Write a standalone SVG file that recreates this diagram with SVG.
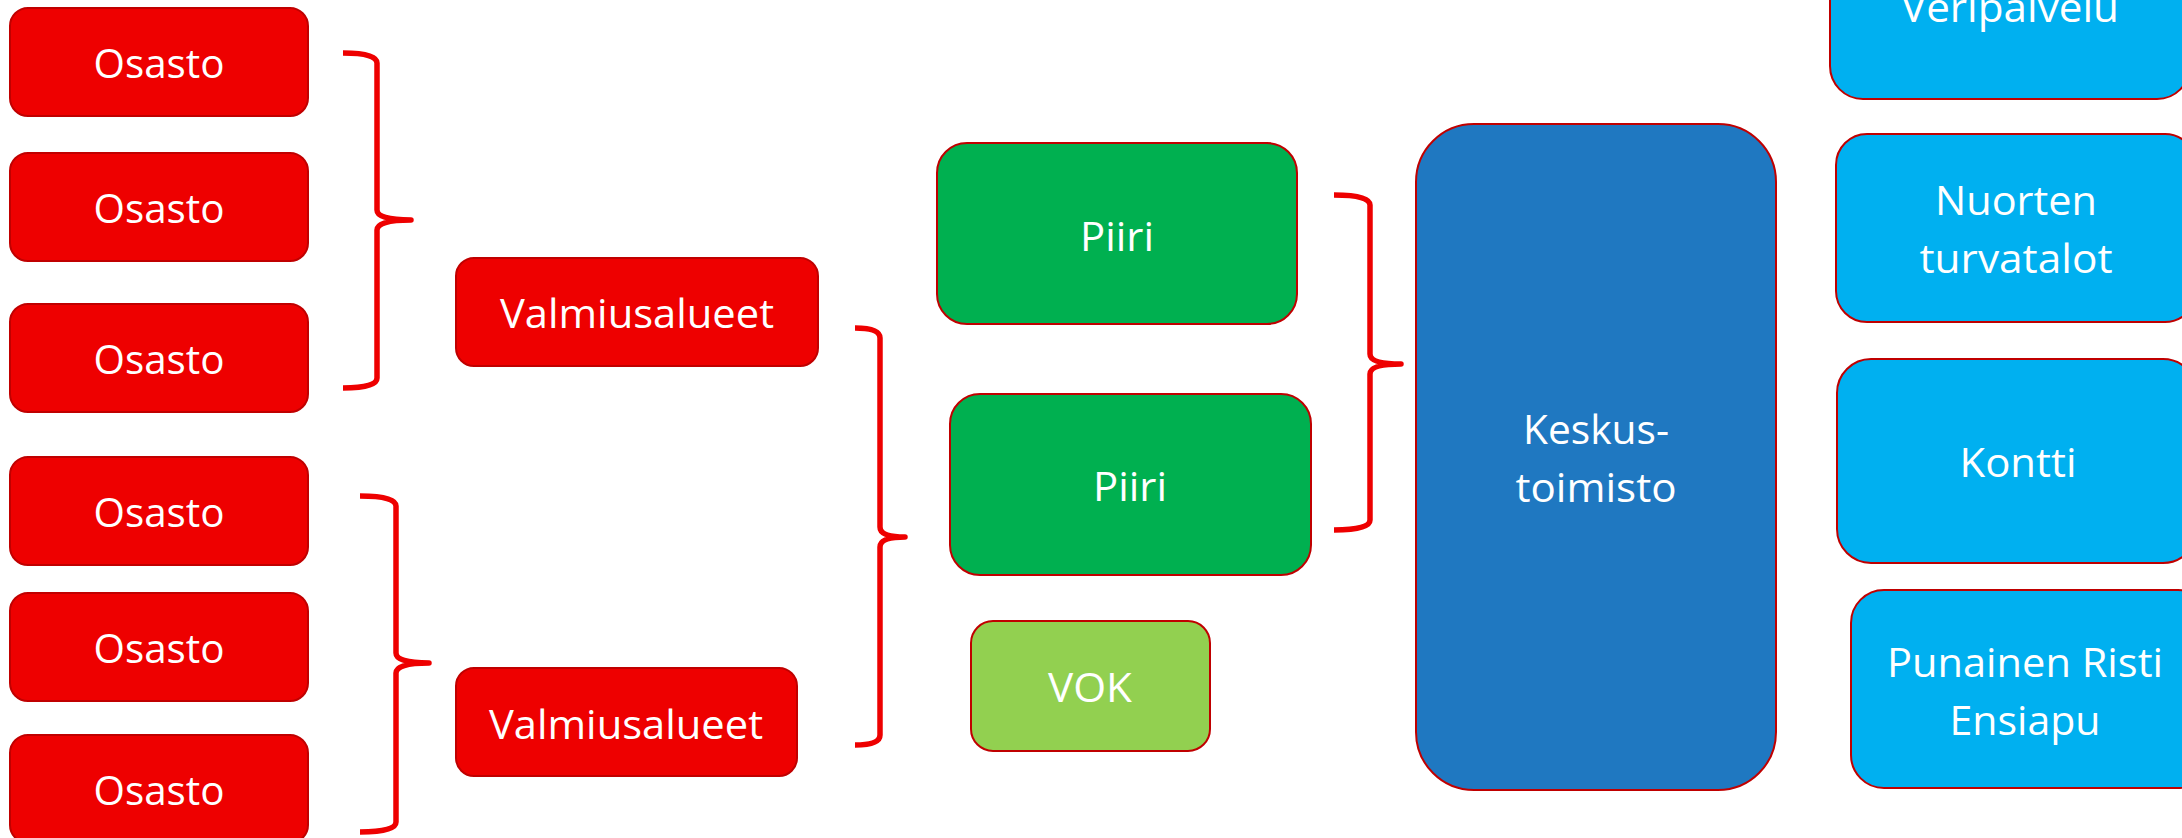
<svg xmlns="http://www.w3.org/2000/svg" width="2182" height="838" viewBox="0 0 2182 838">
<style>
  .box { stroke: #C00000; stroke-width: 2; }
  .red { fill: #EE0000; }
  .green { fill: #00B050; }
  .lgreen { fill: #92D050; }
  .blue { fill: #1F78C1; }
  .lblue { fill: #00B0F0; }
  text { font-family: "Open Sans", "Noto Sans", "Liberation Sans", sans-serif; font-size: 41px; fill: #FFFFFF; text-anchor: middle; }
  .brace { fill: none; stroke: #EE0000; stroke-width: 5.5; stroke-linejoin: round; }
</style>
<rect width="2182" height="838" fill="#FFFFFF"/>

<g id="connectors">
  <path class="brace" d="M343,53 Q377,53 377,63 V210 Q377,220 411,220 Q377,220 377,230 V378 Q377,388 343,388"/>
  <path class="brace" d="M360,496 Q396,496 396,506 V653 Q396,663 429,663 Q396,663 396,673 V822 Q396,832 360,832"/>
  <path class="brace" d="M855,328 Q880,328 880,338 V527 Q880,537 905,537 Q880,537 880,547 V735 Q880,745 855,745"/>
  <path class="brace" d="M1334,195 Q1370,195 1370,205 V354 Q1370,364 1401,364 Q1370,364 1370,374 V520 Q1370,530 1334,530"/>
</g>

<g id="osasto1"><rect class="box red" x="10" y="8" width="298" height="108" rx="18"/><text x="159" y="78" textLength="131" lengthAdjust="spacingAndGlyphs">Osasto</text></g>
<g id="osasto2"><rect class="box red" x="10" y="153" width="298" height="108" rx="18"/><text x="159" y="223" textLength="131" lengthAdjust="spacingAndGlyphs">Osasto</text></g>
<g id="osasto3"><rect class="box red" x="10" y="304" width="298" height="108" rx="18"/><text x="159" y="374" textLength="131" lengthAdjust="spacingAndGlyphs">Osasto</text></g>
<g id="osasto4"><rect class="box red" x="10" y="457" width="298" height="108" rx="18"/><text x="159" y="527" textLength="131" lengthAdjust="spacingAndGlyphs">Osasto</text></g>
<g id="osasto5"><rect class="box red" x="10" y="593" width="298" height="108" rx="18"/><text x="159" y="663" textLength="131" lengthAdjust="spacingAndGlyphs">Osasto</text></g>
<g id="osasto6"><rect class="box red" x="10" y="735" width="298" height="108" rx="18"/><text x="159" y="805" textLength="131" lengthAdjust="spacingAndGlyphs">Osasto</text></g>

<g id="valmiusalueet1"><rect class="box red" x="456" y="258" width="362" height="108" rx="18"/><text x="637" y="328" textLength="274" lengthAdjust="spacingAndGlyphs">Valmiusalueet</text></g>
<g id="valmiusalueet2"><rect class="box red" x="456" y="668" width="341" height="108" rx="18"/><text x="626" y="739" textLength="274" lengthAdjust="spacingAndGlyphs">Valmiusalueet</text></g>

<g id="piiri1"><rect class="box green" x="937" y="143" width="360" height="181" rx="30"/><text x="1117" y="251" textLength="74" lengthAdjust="spacingAndGlyphs">Piiri</text></g>
<g id="piiri2"><rect class="box green" x="950" y="394" width="361" height="181" rx="30"/><text x="1130" y="501" textLength="74" lengthAdjust="spacingAndGlyphs">Piiri</text></g>
<g id="vok"><rect class="box lgreen" x="971" y="621" width="239" height="130" rx="22"/><text x="1090" y="702" textLength="84" lengthAdjust="spacingAndGlyphs">VOK</text></g>

<g id="keskustoimisto"><rect class="box blue" x="1416" y="124" width="360" height="666" rx="58"/><text x="1596" y="444" textLength="146" lengthAdjust="spacingAndGlyphs">Keskus-</text><text x="1596" y="502" textLength="161" lengthAdjust="spacingAndGlyphs">toimisto</text></g>

<g id="veripalvelu"><rect class="box lblue" x="1830" y="-100" width="360" height="199" rx="33"/><text x="2010" y="22" textLength="218" lengthAdjust="spacingAndGlyphs">Veripalvelu</text></g>
<g id="nuorten"><rect class="box lblue" x="1836" y="134" width="360" height="188" rx="31"/><text x="2016" y="215" textLength="162" lengthAdjust="spacingAndGlyphs">Nuorten</text><text x="2016" y="273" textLength="193" lengthAdjust="spacingAndGlyphs">turvatalot</text></g>
<g id="kontti"><rect class="box lblue" x="1837" y="359" width="360" height="204" rx="34"/><text x="2018" y="477" textLength="117" lengthAdjust="spacingAndGlyphs">Kontti</text></g>
<g id="punainenristi"><rect class="box lblue" x="1851" y="590" width="360" height="198" rx="33"/><text x="2025" y="677" textLength="276" lengthAdjust="spacingAndGlyphs">Punainen Risti</text><text x="2025" y="735" textLength="151" lengthAdjust="spacingAndGlyphs">Ensiapu</text></g>
</svg>
